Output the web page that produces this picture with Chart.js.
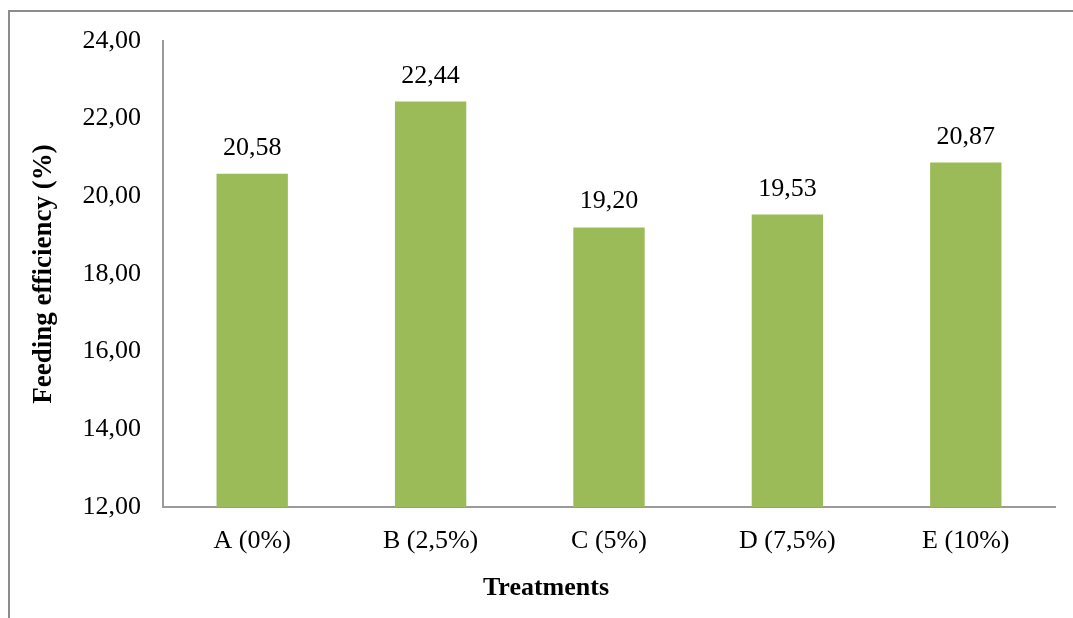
<!DOCTYPE html>
<html>
<head>
<meta charset="utf-8">
<title>Feeding efficiency by treatment</title>
<script src="https://cdn.jsdelivr.net/npm/chart.js@4/dist/chart.umd.min.js"></script>
<style>
  html, body { margin: 0; padding: 0; background: #ffffff; }
  canvas { display: block; }
</style>
</head>
<body>
<canvas id="chart" width="1073" height="618"></canvas>
<script>
// Treatments and their feeding efficiency (%)
const categories = ['A (0%)', 'B (2,5%)', 'C (5%)', 'D (7,5%)', 'E (10%)'];
const efficiency = [20.58, 22.44, 19.20, 19.53, 20.87];
const yTicks = [12, 14, 16, 18, 20, 22, 24];
const xAxisTitle = 'Treatments';
const yAxisTitle = 'Feeding efficiency (%)';

const SERIF = "'Liberation Serif', 'Times New Roman', serif";
const fmt = v => v.toFixed(2).replace('.', ',');

// Thin grey frame along the top and left edges of the figure
const framePlugin = {
  id: 'frame',
  beforeDraw(chart) {
    const ctx = chart.ctx;
    ctx.save();
    ctx.fillStyle = '#ffffff';
    ctx.fillRect(0, 0, chart.width, chart.height);
    ctx.fillStyle = '#8c8c8c';
    ctx.fillRect(8, 10, chart.width - 8, 2);
    ctx.fillRect(8, 10, 2, chart.height - 10);
    ctx.restore();
  }
};

// Value printed above each bar, plus the horizontal axis title centred on the figure
const valueLabels = {
  id: 'valueLabels',
  afterDatasetsDraw(chart) {
    const ctx = chart.ctx;
    const meta = chart.getDatasetMeta(0);
    const data = chart.data.datasets[0].data;
    ctx.save();
    ctx.font = '26px ' + SERIF;
    ctx.fillStyle = '#000000';
    ctx.textAlign = 'center';
    ctx.textBaseline = 'alphabetic';
    meta.data.forEach((bar, i) => {
      ctx.fillText(fmt(data[i]), bar.x, bar.y - 19);
    });
    ctx.font = 'bold 26px ' + SERIF;
    ctx.textBaseline = 'middle';
    const xs = chart.scales.x;
    ctx.fillText(xAxisTitle, 546, xs.top + 81);
    ctx.restore();
  }
};

new Chart(document.getElementById('chart'), {
  type: 'bar',
  data: {
    labels: categories,
    datasets: [{
      data: efficiency,
      backgroundColor: '#9bbb59',
      borderWidth: 0,
      categoryPercentage: 1.0,
      barPercentage: 0.4
    }]
  },
  options: {
    responsive: false,
    animation: false,
    devicePixelRatio: 1,
    layout: { padding: { top: 41, right: 18, left: 0, bottom: 0 } },
    plugins: {
      legend: { display: false },
      tooltip: { enabled: false }
    },
    scales: {
      x: {
        grid: { display: false, drawTicks: false },
        border: { display: true, color: '#9a9a9a', width: 2 },
        ticks: {
          padding: 19,
          color: '#000000',
          font: { family: SERIF, size: 26 }
        },
        afterFit(scale) { scale.height = 111; }
      },
      y: {
        min: 12,
        max: 24,
        grid: { display: false, drawTicks: false },
        border: { display: true, color: '#9a9a9a', width: 2 },
        afterBuildTicks(scale) { scale.ticks = yTicks.map(v => ({ value: v })); },
        ticks: {
          padding: 22,
          color: '#000000',
          font: { family: SERIF, size: 26 },
          callback: v => fmt(v)
        },
        title: {
          display: true,
          text: yAxisTitle,
          color: '#000000',
          font: { family: SERIF, size: 27, weight: 'bold' },
          padding: { top: 28, bottom: 0 }
        },
        afterFit(scale) { scale.width = 163; }
      }
    }
  },
  plugins: [framePlugin, valueLabels]
});
</script>
</body>
</html>
